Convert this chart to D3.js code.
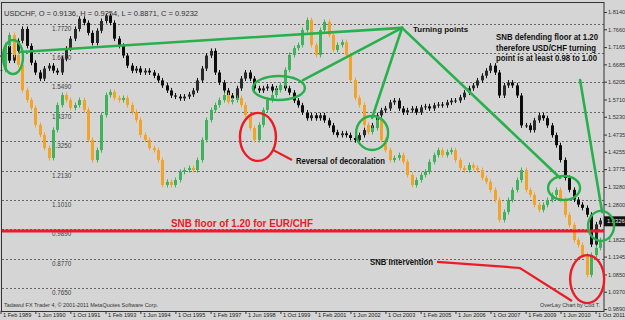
<!DOCTYPE html>
<html>
<head>
<meta charset="utf-8">
<script src="https://cdn.jsdelivr.net/npm/d3@7"></script>
<style>
  body { margin: 0; background: #d5d5d5; }
  svg { display: block; font-family: "Liberation Sans", Arial, sans-serif; }
</style>
</head>
<body>
<div id="chart"></div>
<script>
// bimonthly bars from Feb 1989
var startDate = new Date(1989, 1, 1);

// USD/CHF main series (right axis), closes
var mainClose = [
  1.693,1.720,1.679,1.706,1.734,1.767,1.720,1.673,1.646,1.629,
  1.657,1.665,1.651,1.646,1.684,1.712,1.740,1.767,1.795,1.784,
  1.756,1.728,1.762,1.789,1.803,1.784,1.740,1.720,1.693,1.665,
  1.651,1.657,1.646,1.651,1.646,1.637,1.624,1.610,1.596,1.582,
  1.579,1.574,1.579,1.585,1.596,1.624,1.657,1.693,1.706,1.646,
  1.618,1.596,1.582,1.574,1.602,1.629,1.646,1.629,1.602,1.596,
  1.602,1.607,1.596,1.602,1.610,1.602,1.590,1.568,1.555,1.535,
  1.519,1.527,1.519,1.527,1.513,1.499,1.480,1.472,1.477,1.472,
  1.464,1.458,1.472,1.486,1.491,1.499,1.527,1.541,1.546,1.563,
  1.568,1.546,1.535,1.541,1.546,1.535,1.549,1.552,1.546,1.555,
  1.557,1.555,1.563,1.568,1.568,1.577,1.590,1.602,1.610,1.624,
  1.637,1.651,1.665,1.646,1.582,1.610,1.618,1.610,1.582,1.499,
  1.499,1.486,1.513,1.527,1.519,1.499,1.472,1.444,1.403,1.353,
  1.320,1.293,1.279,1.270,1.251,1.168,1.224,1.235
];

// overlay series (left labels), closes
var overlayClose = [
  1.597,1.692,1.730,1.654,1.616,1.520,1.482,1.452,1.387,1.349,
  1.299,1.261,1.368,1.463,1.501,1.482,1.452,1.463,1.482,1.444,
  1.330,1.253,1.291,1.425,1.501,1.513,1.490,1.482,1.490,1.463,
  1.436,1.406,1.349,1.330,1.299,1.291,1.253,1.158,1.170,1.158,
  1.177,1.208,1.215,1.223,1.215,1.253,1.330,1.406,1.444,1.463,
  1.482,1.501,1.475,1.482,1.490,1.463,1.425,1.375,1.330,1.387,
  1.444,1.482,1.501,1.520,1.539,1.597,1.654,1.680,1.692,1.749,
  1.787,1.692,1.654,1.749,1.780,1.730,1.673,1.692,1.703,1.654,
  1.558,1.490,1.463,1.387,1.360,1.375,1.406,1.330,1.291,1.253,
  1.261,1.272,1.246,1.196,1.158,1.177,1.196,1.208,1.246,1.272,
  1.291,1.272,1.284,1.291,1.253,1.223,1.215,1.234,1.223,1.215,
  1.185,1.170,1.139,1.101,1.025,1.055,1.101,1.139,1.177,1.215,
  1.139,1.120,1.082,1.063,1.082,1.101,1.120,1.139,1.101,1.044,
  1.005,0.948,0.929,0.891,0.815,0.891,0.918,0.948
];

var mainTicks = [1.8140,1.7660,1.7165,1.6685,1.6205,1.5710,1.5230,1.4735,1.4255,
  1.3775,1.3280,1.2800,1.1825,1.1345,1.0850,1.0370,0.9890];
var overlayTicks = [1.7720,1.6610,1.5490,1.4370,1.3250,1.2130,1.1010,0.9890,0.8770,0.7650];
var dateTicks = ["1 Feb 1989","1 Jun 1990","1 Oct 1991","1 Feb 1993","1 Jun 1994","1 Oct 1995",
  "1 Feb 1997","1 Jun 1998","1 Oct 1999","1 Feb 2001","1 Jun 2002","1 Oct 2003",
  "1 Feb 2005","1 Jun 2006","1 Oct 2007","1 Feb 2009","1 Jun 2010","1 Oct 2011"];
var lastPrice = 1.2326;
var floorLevel = 1.206;

var width = 625, height = 320;
var parseDay = d3.timeParse("%d %b %Y");

var svg = d3.select("#chart").append("svg")
  .attr("width", width)
  .attr("height", height);

svg.append("rect").attr("width", width).attr("height", height).attr("fill", "#d5d5d5");

var x = d3.scaleTime()
  .domain([new Date(1989, 1, 1), new Date(2011, 9, 1)])
  .range([0.5, 595.5]);
var yMain = d3.scaleLinear().domain([0.9890, 1.8140]).range([309, 12]);
var yOver = d3.scaleLinear().domain([0.7650, 1.7720]).range([288, 24]);

// decimal year -> date, used for the hand drawn annotations
function yr(t) {
  var y = Math.floor(t);
  return new Date(new Date(y, 0, 1).getTime() + (t - y) * 365.25 * 864e5);
}
function px(p) { return [x(yr(p[0])), yMain(p[1])]; }

// grid of the overlay levels
svg.append("g").selectAll("line")
  .data(overlayTicks)
  .join("line")
  .attr("x1", 2).attr("x2", 604)
  .attr("y1", d => Math.round(yOver(d)) + 0.5)
  .attr("y2", d => Math.round(yOver(d)) + 0.5)
  .attr("stroke", "#4a4a4a")
  .attr("stroke-width", 0.8)
  .attr("stroke-dasharray", "2,2");

svg.append("g").selectAll("text")
  .data(overlayTicks)
  .join("text")
  .attr("x", 52)
  .attr("y", d => yOver(d) + 7)
  .attr("font-size", "6.3px")
  .attr("fill", "#444")
  .text(d => d.toFixed(4));

// candles
function drawCandles(closes, yScale, upColor, downColor, wickColor) {
  var g = svg.append("g");
  closes.forEach(function(c, i) {
    var o = i ? closes[i - 1] : c;
    var cx = Math.round(x(d3.timeMonth.offset(startDate, 2 * i)));
    var yo = yScale(o), yc = yScale(c);
    var top = Math.min(yo, yc), bot = Math.max(yo, yc);
    var col = c >= o ? upColor : downColor;
    g.append("line")
      .attr("x1", cx + 0.5).attr("x2", cx + 0.5)
      .attr("y1", top - 2.5).attr("y2", bot + 2.5)
      .attr("stroke", wickColor || col)
      .attr("stroke-width", 1);
    g.append("rect")
      .attr("x", cx - 1).attr("y", top)
      .attr("width", 3).attr("height", Math.max(1, bot - top))
      .attr("fill", col);
  });
}
drawCandles(mainClose, yMain, "#2a2a2a", "#0d0d0d", "#111");
drawCandles(overlayClose, yOver, "#3fb35c", "#f3a428");

// plot frame
svg.append("rect")
  .attr("x", 1.5).attr("y", 2.5)
  .attr("width", 602.5).attr("height", 309)
  .attr("fill", "none")
  .attr("stroke", "#333")
  .attr("stroke-width", 1);

// right price axis
var rightAxis = svg.append("g")
  .attr("transform", "translate(604,0)")
  .call(d3.axisRight(yMain).tickValues(mainTicks).tickSize(3).tickFormat(d3.format(".4f")));
rightAxis.select(".domain").remove();
rightAxis.selectAll("line").attr("stroke", "#333");
rightAxis.selectAll("text").attr("font-size", "5.6px").attr("fill", "#333").attr("x", 4)
  .attr("font-family", "'Liberation Sans', Arial, sans-serif");

svg.append("rect")
  .attr("x", 604).attr("y", yMain(lastPrice) - 5)
  .attr("width", 21).attr("height", 10)
  .attr("fill", "#111");
svg.append("text")
  .attr("x", 607).attr("y", yMain(lastPrice) + 2)
  .attr("font-size", "5.8px").attr("fill", "#eee")
  .text(lastPrice.toFixed(4));

// bottom date axis
var bottomAxis = svg.append("g")
  .attr("transform", "translate(0,311)")
  .call(d3.axisBottom(x).tickValues(dateTicks.map(parseDay)).tickSize(3)
    .tickFormat((d, i) => dateTicks[i]));
bottomAxis.select(".domain").remove();
bottomAxis.selectAll("line").attr("stroke", "#333");
bottomAxis.selectAll("text")
  .attr("text-anchor", "start")
  .attr("x", 2).attr("y", 2).attr("dy", "0.71em")
  .attr("font-size", "5.6px").attr("fill", "#222")
  .attr("font-family", "'Liberation Sans', Arial, sans-serif");

// header and footer texts
svg.append("text")
  .attr("x", 4).attr("y", 16)
  .attr("font-size", "6.8px").attr("fill", "#333")
  .attr("textLength", 194).attr("lengthAdjust", "spacingAndGlyphs")
  .text("USDCHF, O = 0.9136, H = 0.9254, L = 0.8871, C = 0.9232");

svg.append("text")
  .attr("x", 4).attr("y", 307)
  .attr("font-size", "5.8px").attr("fill", "#333")
  .attr("textLength", 154).attr("lengthAdjust", "spacingAndGlyphs")
  .text("Tadawul FX Trader 4, © 2001-2011 MetaQuotes Software Corp.");

svg.append("text")
  .attr("x", 540).attr("y", 307)
  .attr("font-size", "5.8px").attr("fill", "#333")
  .attr("textLength", 60).attr("lengthAdjust", "spacingAndGlyphs")
  .text("OverLay Chart by Cod T.");

// SNB floor line
svg.append("line")
  .attr("x1", 2).attr("x2", 604)
  .attr("y1", yMain(floorLevel)).attr("y2", yMain(floorLevel))
  .attr("stroke", "#ec1b24")
  .attr("stroke-width", 3);

// annotations: green turning point lines
var apex = [2004.38, 1.770];
var greenLines = [
  [[1989.83, 1.703], apex],
  [apex, [2000.61, 1.625]],
  [apex, [2003.24, 1.520]],
  [apex, [2010.40, 1.353]],
  [[2011.16, 1.625], [2012.00, 1.258]]
];
svg.append("g").selectAll("line")
  .data(greenLines)
  .join("line")
  .attr("x1", d => px(d[0])[0]).attr("y1", d => px(d[0])[1])
  .attr("x2", d => px(d[1])[0]).attr("y2", d => px(d[1])[1])
  .attr("stroke", "#27b04b")
  .attr("stroke-width", 2.6)
  .attr("stroke-linecap", "round");

// [decimal year, price, rx, ry]
var greenRings = [
  [1989.56, 1.689, 10, 17],
  [1999.69, 1.603, 26, 12],
  [2003.24, 1.478, 16, 17],
  [2010.55, 1.325, 16, 12],
  [2011.96, 1.220, 13, 15]
];
var redRings = [
  [1998.89, 1.467, 18, 24],
  [2011.43, 1.072, 17, 24]
];
svg.append("g").selectAll("ellipse")
  .data(greenRings)
  .join("ellipse")
  .attr("cx", d => px(d)[0]).attr("cy", d => px(d)[1])
  .attr("rx", d => d[2]).attr("ry", d => d[3])
  .attr("fill", "none").attr("stroke", "#27b04b").attr("stroke-width", 2.4);
svg.append("g").selectAll("ellipse")
  .data(redRings)
  .join("ellipse")
  .attr("cx", d => px(d)[0]).attr("cy", d => px(d)[1])
  .attr("rx", d => d[2]).attr("ry", d => d[3])
  .attr("fill", "none").attr("stroke", "#ec1b24").attr("stroke-width", 2.4);

var redPaths = [
  [[1999.46, 1.431], [2000.19, 1.403]],
  [[2005.71, 1.120], [2008.87, 1.103], [2010.85, 1.0112]]
];
svg.append("g").selectAll("path")
  .data(redPaths)
  .join("path")
  .attr("d", d => d3.line()(d.map(px)))
  .attr("fill", "none")
  .attr("stroke", "#ec1b24")
  .attr("stroke-width", 2.2);

// annotation texts: [decimal year, price, text, size, width, colour]
var notes = [
  [2004.80, 1.758, "Turning points", 8, 55, "#111"],
  [2007.96, 1.736, "SNB defending floor at 1.20", 8.5, 102, "#111"],
  [2007.96, 1.706, "therefore USD/CHF turning", 8.5, 100, "#111"],
  [2007.96, 1.677, "point is at least 0.98 to 1.00", 8.5, 101, "#111"],
  [2000.34, 1.392, "Reversal of decoralation", 8.5, 89, "#111"],
  [2003.16, 1.111, "SNB Intervention", 8.5, 63, "#111"],
  [1995.58, 1.217, "SNB floor of 1.20 for EUR/CHF", 10.5, 142, "#ec1b24"]
];
svg.append("g").selectAll("text")
  .data(notes)
  .join("text")
  .attr("x", d => px(d)[0]).attr("y", d => px(d)[1])
  .attr("font-size", d => d[3] + "px")
  .attr("font-weight", "bold")
  .attr("fill", d => d[5])
  .attr("textLength", d => d[4])
  .attr("lengthAdjust", "spacingAndGlyphs")
  .text(d => d[2]);
</script>
</body>
</html>
